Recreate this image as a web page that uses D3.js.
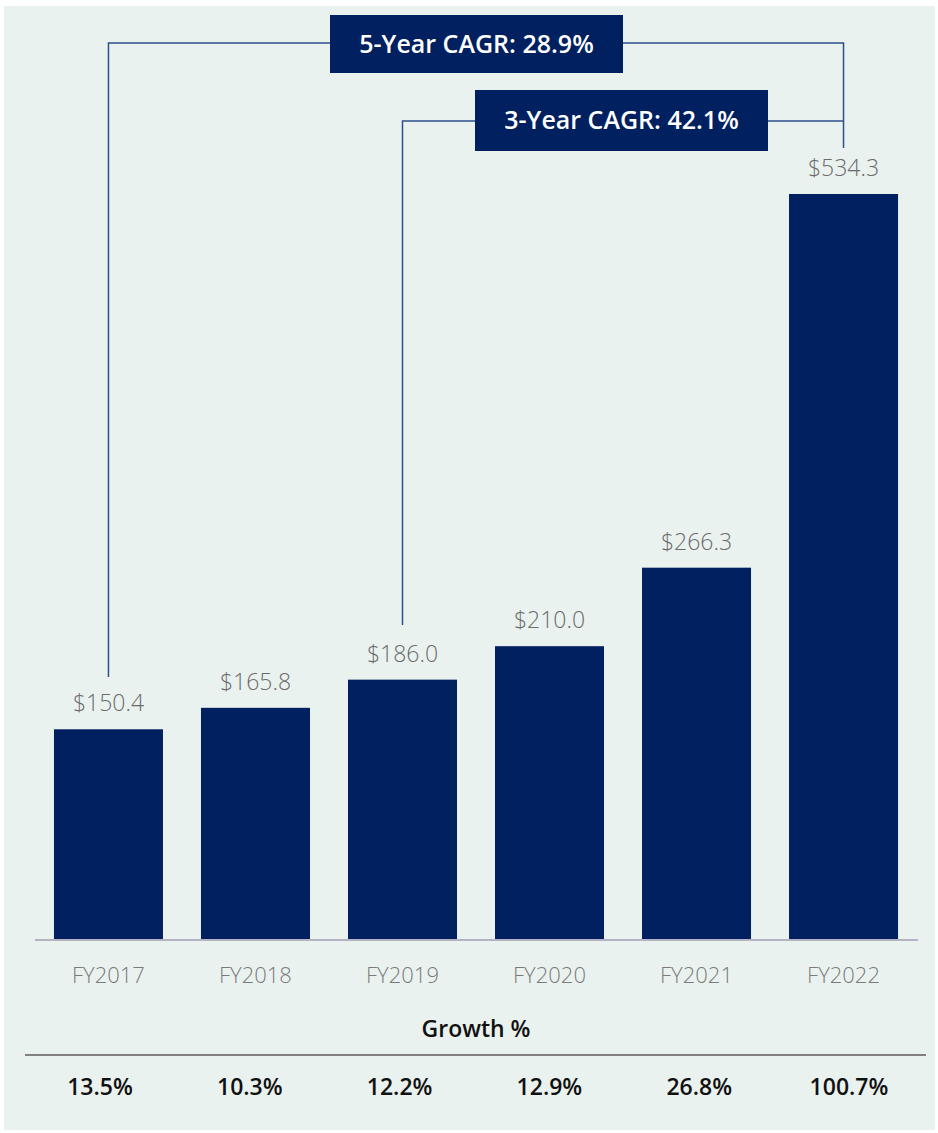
<!DOCTYPE html>
<html>
<head>
<meta charset="utf-8">
<script src="https://cdn.jsdelivr.net/npm/d3@7"></script>
<style>
  body { margin: 0; background: #fff; }
  text { font-family: "Open Sans", "Noto Sans", sans-serif; }
</style>
</head>
<body>
<div class="revenue-container"></div>
<script>
const years = ["FY2017", "FY2018", "FY2019", "FY2020", "FY2021", "FY2022"];
const revenue = [150.4, 165.8, 186.0, 210.0, 266.3, 534.3];
const growth = ["13.5%", "10.3%", "12.2%", "12.9%", "26.8%", "100.7%"];
// CAGR callouts: label, start year, end year
const cagrLabels = ["5-Year CAGR: 28.9%", "3-Year CAGR: 42.1%"];
const cagrFrom = ["FY2017", "FY2019"];
const cagrTo = ["FY2022", "FY2022"];

const width = 938, height = 1133;
const navy = "#002060";

const svg = d3.select(".revenue-container")
  .append("svg")
  .attr("width", width)
  .attr("height", height);

// light panel behind everything
svg.append("rect")
  .attr("x", 4).attr("y", 6)
  .attr("width", 931).attr("height", 1124)
  .attr("fill", "#eaf2ef");

const xScale = d3.scaleBand()
  .domain(years)
  .range([35, 917])
  .paddingInner(0.2585)
  .paddingOuter(0.129);

const yScale = d3.scaleLinear()
  .domain([0, d3.max(revenue)])
  .range([939, 194]);

const data = years.map((y, i) => ({year: y, value: revenue[i]}));

svg.append("g")
  .selectAll("rect")
  .data(data)
  .join("rect")
  .attr("x", d => xScale(d.year))
  .attr("y", d => yScale(d.value))
  .attr("width", xScale.bandwidth())
  .attr("height", d => yScale(0) - yScale(d.value))
  .attr("fill", navy);

// value labels above bars
svg.append("g")
  .selectAll("text")
  .data(data)
  .join("text")
  .attr("x", d => xScale(d.year) + xScale.bandwidth() / 2)
  .attr("y", d => yScale(d.value) - 18)
  .attr("text-anchor", "middle")
  .attr("font-size", 23)
  .attr("font-weight", 300)
  .attr("fill", "#6b6b6b")
  .text(d => "$" + d.value.toFixed(1));

// x axis
const xAxis = d3.axisBottom(xScale).tickSize(0).tickPadding(28);
const gx = svg.append("g")
  .attr("transform", "translate(0," + yScale(0) + ")")
  .call(xAxis);
gx.select(".domain").remove();
gx.selectAll("text")
  .attr("font-size", 22)
  .attr("font-weight", 300)
  .attr("fill", "#7a7a7a")
  .style("font-family", '"Open Sans", sans-serif');

svg.append("line")
  .attr("x1", 35).attr("x2", 918)
  .attr("y1", yScale(0) + 1).attr("y2", yScale(0) + 1)
  .attr("stroke", "#b3b3c3")
  .attr("stroke-width", 2);

// growth table
svg.append("text")
  .attr("x", 476).attr("y", 1037)
  .attr("text-anchor", "middle")
  .attr("font-size", 23)
  .attr("font-weight", 600)
  .attr("fill", "#111")
  .text("Growth %");

svg.append("line")
  .attr("x1", 25).attr("x2", 926)
  .attr("y1", 1055).attr("y2", 1055)
  .attr("stroke", "#808080")
  .attr("stroke-width", 2);

const growthScale = d3.scalePoint()
  .domain(years)
  .range([100, 849]);

svg.append("g")
  .selectAll("text")
  .data(growth)
  .join("text")
  .attr("x", (d, i) => growthScale(years[i]))
  .attr("y", 1095)
  .attr("text-anchor", "middle")
  .attr("font-size", 23)
  .attr("font-weight", 600)
  .attr("fill", "#111")
  .text(d => d);

// CAGR brackets
const mid = y => xScale(y) + xScale.bandwidth() / 2;
const bracketY = [43, 121];
const boxX = [330, 475];
const boxY = [15, 90];
const boxW = 293, boxH = [58, 61];
const leftEnd = [677, 625];

cagrLabels.forEach((label, i) => {
  const x0 = mid(cagrFrom[i]);
  const x1 = mid(cagrTo[i]);
  const path = d3.path();
  path.moveTo(x0, leftEnd[i]);
  path.lineTo(x0, bracketY[i]);
  path.lineTo(x1, bracketY[i]);
  if (i === 0) path.lineTo(x1, 148);
  svg.append("path")
    .attr("d", path.toString())
    .attr("fill", "none")
    .attr("stroke", "#2e4f8f")
    .attr("stroke-width", 1.5);

  svg.append("rect")
    .attr("x", boxX[i]).attr("y", boxY[i])
    .attr("width", boxW).attr("height", boxH[i])
    .attr("fill", navy);

  svg.append("text")
    .attr("x", boxX[i] + boxW / 2)
    .attr("y", boxY[i] + boxH[i] / 2)
    .attr("dy", "0.35em")
    .attr("text-anchor", "middle")
    .attr("font-size", 25)
    .attr("font-weight", 600)
    .attr("fill", "#fff")
    .text(label);
});
</script>
</body>
</html>
